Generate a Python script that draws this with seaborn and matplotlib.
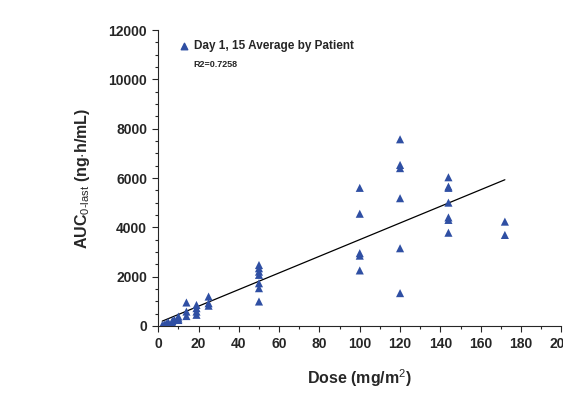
import numpy as np
import pandas as pd
import matplotlib
matplotlib.use("Agg")
import matplotlib.pyplot as plt
from matplotlib.ticker import MultipleLocator
import seaborn as sns

# dose (mg/m2) and AUC0-last (ng*h/mL)
dose = [2, 3, 3, 4, 5, 5, 7, 7, 8,
        10, 10, 10, 14, 14, 14,
        19, 19, 19, 19, 25, 25, 25,
        50, 50, 50, 50, 50, 50, 50,
        100, 100, 100, 100, 100,
        120, 120, 120, 120, 120, 120,
        144, 144, 144, 144, 144, 144, 144,
        172, 172]
auc = [30, 60, 20, 100, 150, 80, 200, 120, 250,
       380, 240, 300, 950, 580, 400,
       850, 720, 580, 450, 1190, 920, 820,
       2470, 2340, 2200, 2070, 1730, 1530, 990,
       5600, 4550, 2950, 2850, 2250,
       7570, 6530, 6400, 5180, 3150, 1330,
       6030, 5650, 5600, 5000, 4400, 4300, 3780,
       4230, 3690]
df = pd.DataFrame({"dose": dose, "auc": auc})

sns.set_theme(style="ticks")
plt.rcParams["font.family"] = ["Liberation Sans", "DejaVu Sans"]
plt.rcParams["mathtext.fontset"] = "custom"
plt.rcParams["mathtext.rm"] = "Liberation Sans"

blue = "#2f4fa3"

fig = plt.figure(figsize=(5.63, 3.96), dpi=100)
ax = fig.add_axes([0.281, 0.177, 0.716, 0.747])

sns.scatterplot(data=df, x="dose", y="auc", marker="^", s=34, color=blue,
                edgecolor="none", ax=ax, legend=False, zorder=3)
sns.regplot(data=df, x="dose", y="auc", scatter=False, ci=None, ax=ax,
            line_kws=dict(color="black", lw=0.9))

ax.set_xlim(0, 200)
ax.set_ylim(0, 12000)
ax.xaxis.set_major_locator(MultipleLocator(20))
ax.xaxis.set_minor_locator(MultipleLocator(10))
ax.yaxis.set_major_locator(MultipleLocator(2000))
ax.yaxis.set_minor_locator(MultipleLocator(500))
ax.tick_params(axis="both", which="major", length=4, width=0.8,
               labelsize=10, pad=4, direction="out")
ax.tick_params(axis="both", which="minor", length=2.5, width=0.8, direction="out")
for lab in ax.get_xticklabels() + ax.get_yticklabels():
    lab.set_fontweight("bold")
for s in ["top", "right"]:
    ax.spines[s].set_visible(False)
for s in ["left", "bottom"]:
    ax.spines[s].set_linewidth(0.8)

ax.set_xlabel("Dose (mg/m$^{2}$)", fontsize=11.5, fontweight="bold", labelpad=12)
ax.set_ylabel("AUC$_{\\rm 0\\text{-}last}$ (ng$\\cdot$h/mL)", fontsize=11.5,
              fontweight="bold", labelpad=12)

# legend-like annotation
ax.scatter([0.063], [0.947], marker="^", s=22, color=blue, transform=ax.transAxes,
           clip_on=False)
ax.text(0.088, 0.947, "Day 1, 15 Average by Patient", transform=ax.transAxes,
        fontsize=8.5, fontweight="bold", va="center")
ax.text(0.088, 0.885, "R2=0.7258", transform=ax.transAxes,
        fontsize=6.5, fontweight="bold", va="center")

fig.savefig("out.png", dpi=100)
